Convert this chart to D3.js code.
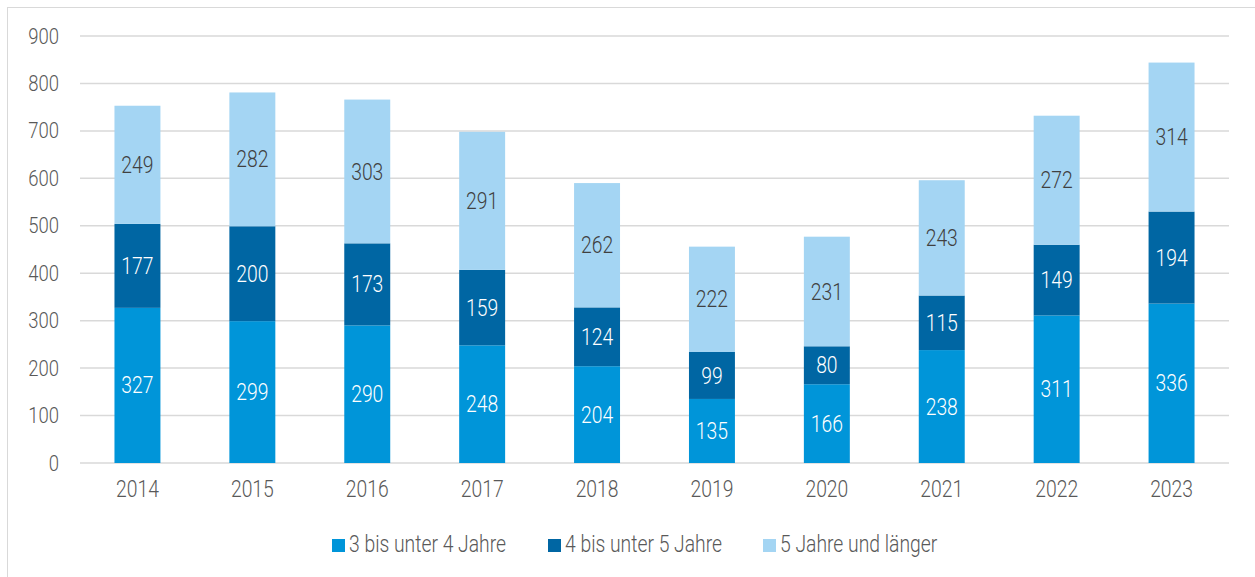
<!DOCTYPE html>
<html>
<head>
<meta charset="utf-8">
<script src="https://cdn.jsdelivr.net/npm/d3@7"></script>
<style>
body { margin: 0; background: #fff; }
svg text { font-family: "Roboto", "Liberation Sans", sans-serif; font-weight: 300; }
</style>
</head>
<body>
<svg width="1255" height="577"></svg>
<script>
// data
var years = ['2014','2015','2016','2017','2018','2019','2020','2021','2022','2023'];
var seriesNames = ['3 bis unter 4 Jahre', '4 bis unter 5 Jahre', '5 Jahre und länger'];
var s3to4 = [327, 299, 290, 248, 204, 135, 166, 238, 311, 336];
var s4to5 = [177, 200, 173, 159, 124, 99, 80, 115, 149, 194];
var s5plus = [249, 282, 303, 291, 262, 222, 231, 243, 272, 314];
var yTicks = [0, 100, 200, 300, 400, 500, 600, 700, 800, 900];

var colors = ['#0095D9', '#0066A3', '#A4D5F3'];
var labelColors = ['#ffffff', '#ffffff', '#404040'];

// the original uses a condensed face, squeeze the text a bit
var condense = 0.84;

var svg = d3.select('svg');

// chart frame
svg.append('rect')
	.attr('x', 7.5).attr('y', 7.5)
	.attr('width', 1260).attr('height', 580)
	.attr('fill', 'none').attr('stroke', '#d9d9d9');

var x = d3.scaleBand().domain(years).range([80, 1229]).paddingInner(0.6).paddingOuter(0.3);
var y = d3.scaleLinear().domain([0, 900]).range([463, 36]);

// gridlines
svg.append('g')
	.selectAll('line')
	.data(yTicks)
	.enter().append('line')
		.attr('x1', 80).attr('x2', 1229)
		.attr('y1', function(d){ return y(d); })
		.attr('y2', function(d){ return y(d); })
		.attr('stroke', '#d9d9d9')
		.attr('stroke-width', 1.5);

// y axis labels
var yAxis = d3.axisLeft(y).tickValues(yTicks).tickSize(0).tickPadding(0);
var yg = svg.append('g').attr('transform', 'translate(59,0)').call(yAxis);
yg.select('.domain').remove();
yg.attr('font-family', null).attr('font-size', null);
yg.selectAll('text').attr('fill', '#595959').style('font-size', '22px');

// x axis labels
var xAxis = d3.axisBottom(x).tickSize(0).tickPadding(0);
var xg = svg.append('g').attr('transform', 'translate(0,481)').call(xAxis);
xg.select('.domain').remove();
xg.attr('font-family', null).attr('font-size', null);
xg.selectAll('text').attr('fill', '#595959').style('font-size', '23px');

// stacked bars
var table = years.map(function(yr, i){
	return { year: yr, a: s3to4[i], b: s4to5[i], c: s5plus[i] };
});
var stack = d3.stack().keys(['a', 'b', 'c'])(table);

stack.forEach(function(layer, k){
	var g = svg.append('g');
	g.selectAll('rect')
		.data(layer)
		.enter().append('rect')
			.attr('x', function(d){ return x(d.data.year); })
			.attr('y', function(d){ return y(d[1]); })
			.attr('width', x.bandwidth())
			.attr('height', function(d){ return y(d[0]) - y(d[1]); })
			.attr('fill', colors[k]);
	g.selectAll('text')
		.data(layer)
		.enter().append('text')
			.attr('x', function(d){ return x(d.data.year) + x.bandwidth() / 2; })
			.attr('y', function(d){ return (y(d[0]) + y(d[1])) / 2; })
			.attr('text-anchor', 'middle')
			.attr('dy', '0.35em')
			.attr('fill', labelColors[k])
			.style('font-size', '23px')
			.text(function(d){ return d[1] - d[0]; });
});

// legend
var legendX = [332, 548, 763];
var legend = svg.append('g');
seriesNames.forEach(function(name, k){
	legend.append('rect')
		.attr('x', legendX[k]).attr('y', 539)
		.attr('width', 13).attr('height', 13)
		.attr('fill', colors[k]);
	legend.append('text')
		.attr('x', legendX[k] + 17).attr('y', 552)
		.attr('fill', '#595959')
		.style('font-size', '23px')
		.text(name);
});

// squeeze all text horizontally
svg.selectAll('text').each(function(){
	var w = this.getComputedTextLength();
	d3.select(this)
		.attr('textLength', w * condense)
		.attr('lengthAdjust', 'spacingAndGlyphs');
});
</script>
</body>
</html>
